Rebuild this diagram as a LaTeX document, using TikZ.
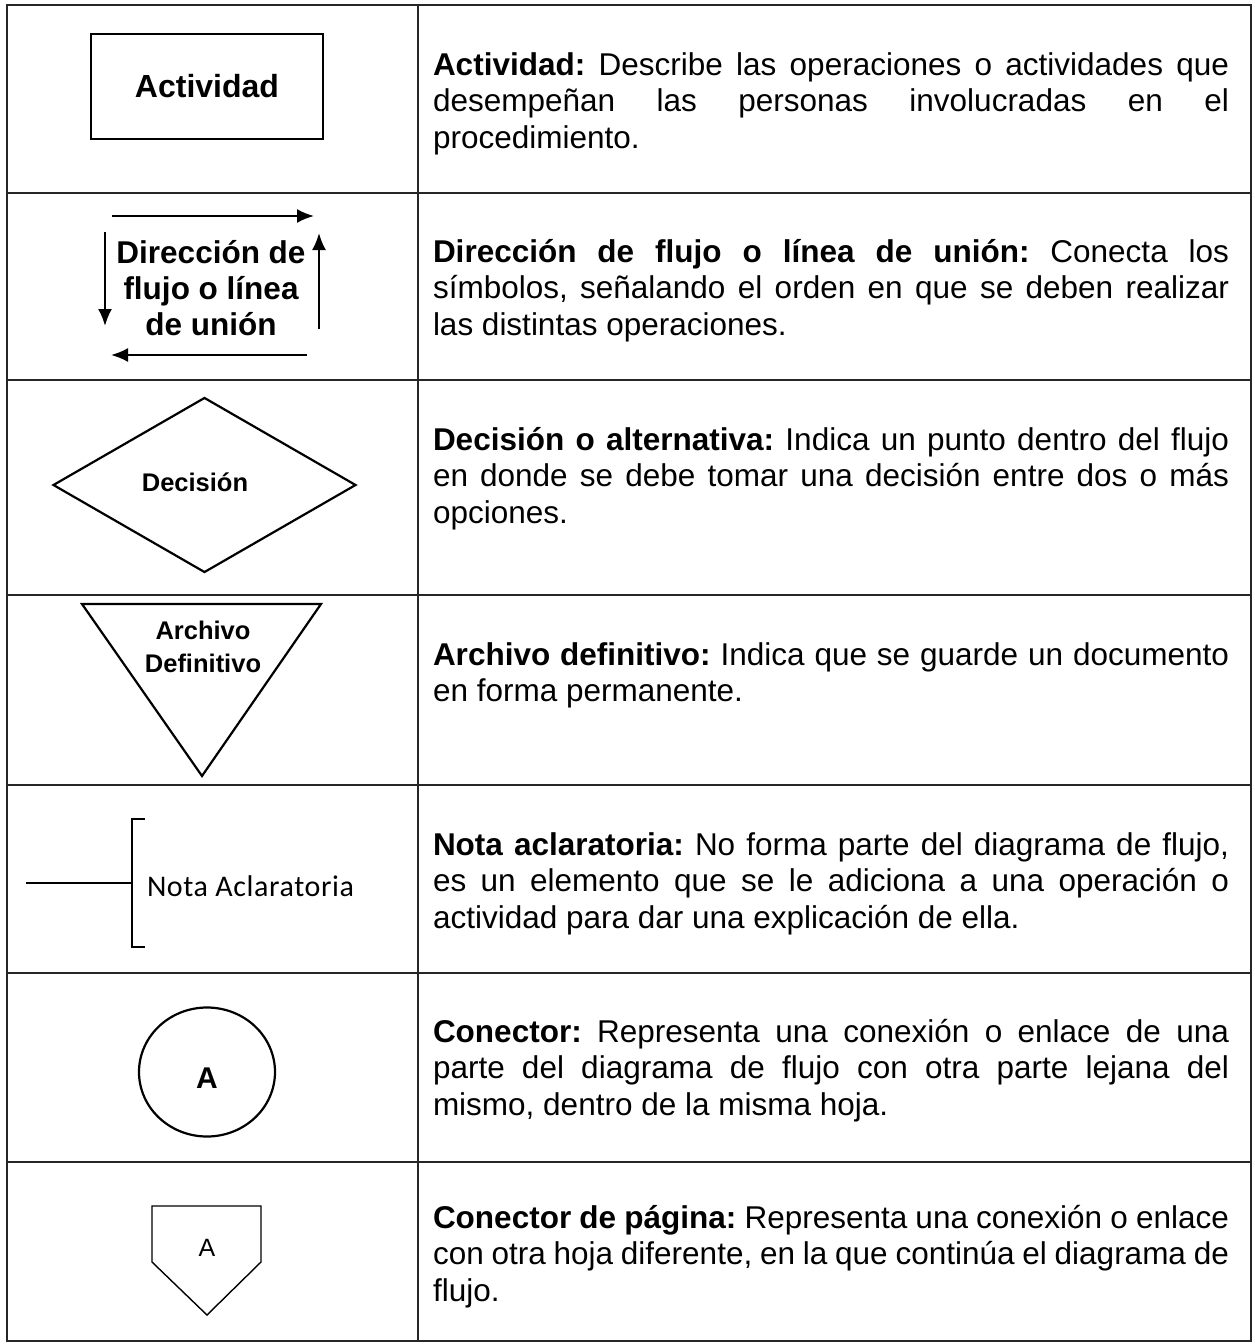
\documentclass[tikz,border=0pt]{standalone}
\usepackage{fontspec}
\setmainfont{Liberation Sans}
\newfontfamily\calibri[LetterSpace=2]{Carlito}
\usetikzlibrary{arrows.meta,shapes.geometric}
\hyphenpenalty=10000
\exhyphenpenalty=10000
\frenchspacing
\begin{document}
\begin{tikzpicture}[x=1pt,y=-1pt,line width=2pt,
  tbl/.style={line width=1.8pt,draw=black!85},
  shp/.style={draw,line width=2.2pt},
  desc/.style={anchor=base west,inner sep=0pt,text width=796pt,align=justify,
    font=\fontsize{31.5}{36.8}\selectfont},
  flowarr/.style={-{Latex[length=17pt,width=14pt]},line width=2.2pt},
  bigbold/.style={font=\fontsize{32}{36}\selectfont\bfseries},
  midbold/.style={font=\fontsize{31.5}{36}\selectfont\bfseries,align=center,inner sep=0pt},
  smallbold/.style={font=\fontsize{25.5}{33}\selectfont\bfseries,align=center,inner sep=0pt}]
\useasboundingbox (0,0) rectangle (1255,1344);

% table grid
\draw[tbl] (7,5) rectangle (1251,1341);
\draw[tbl] (418,5) -- (418,1341);
\foreach \yy in {193,380,595,785,973,1162}
  \draw[tbl] (7,\yy) -- (1251,\yy);

% row 1: activity box
\node[shp,bigbold,minimum width=232pt,minimum height=105pt,inner sep=0pt] (act) at (207,86.5) {Actividad};

% row 2: flow lines (base anchor = last line)
\node[midbold,anchor=base] (flow) at (211,335) {Dirección de\\flujo o línea\\de unión};
\coordinate (t1) at (112,216); \coordinate (t2) at (314,216);
\coordinate (l1) at (105,232); \coordinate (l2) at (105,326);
\coordinate (r1) at (319,329); \coordinate (r2) at (319,233);
\coordinate (b1) at (307,355); \coordinate (b2) at (111,355);
\draw[flowarr] (t1) -- (t2);
\draw[flowarr] (l1) -- (l2);
\draw[flowarr] (r1) -- (r2);
\draw[flowarr] (b1) -- (b2);

% row 3: decision diamond
\node[shp,diamond,minimum width=303pt,minimum height=175pt,inner sep=0pt] (dec) at (204.5,485) {};
\node[smallbold,anchor=base] (dect) at (195,491) {Decisión};

% row 4: file triangle
\coordinate (tr1) at (82,604); \coordinate (tr2) at (321,604); \coordinate (tr3) at (202,776);
\draw[shp,line join=miter] (tr1) -- (tr2) -- (tr3) -- cycle;
\node[smallbold,anchor=base] (arch) at (203,672) {Archivo\\Definitivo};

% row 5: note
\coordinate (n0) at (26,883); \coordinate (n1) at (132,883);
\coordinate (bt) at (145,819); \coordinate (btc) at (132,819);
\coordinate (bb) at (145,947); \coordinate (bbc) at (132,947);
\draw[line width=2.2pt] (n0) -- (n1);
\draw[line width=2.2pt] (bt) -- (btc) -- (bbc) -- (bb);
\node[font=\fontsize{30}{34}\selectfont\calibri,inner sep=0pt,anchor=base west] (nota) at (146,896) {Nota Aclaratoria};

% row 6: connector
\node[shp,ellipse,minimum width=136pt,minimum height=129pt,inner sep=0pt] (con) at (207,1072) {};
\node[font=\fontsize{30}{34}\selectfont\bfseries,inner sep=0pt,anchor=base] (cona) at (207,1088) {A};

% row 7: page connector
\coordinate (p1) at (152,1206); \coordinate (p2) at (261,1206);
\coordinate (p3) at (261,1262); \coordinate (p4) at (207,1315); \coordinate (p5) at (152,1262);
\draw[line width=1.4pt,line join=miter] (p1) -- (p2) -- (p3) -- (p4) -- (p5) -- cycle;
\node[font=\fontsize{25}{30}\selectfont,inner sep=0pt,anchor=base] (pa) at (207,1256) {A};

% descriptions
\node[desc] (d1) at (432,75) {\textbf{Actividad:} Describe las operaciones o actividades que\linebreak desempeñan las personas involucradas en el\linebreak procedimiento.};
\node[desc] (d2) at (432,262) {\textbf{Dirección de flujo o línea de unión:} Conecta los\linebreak símbolos, señalando el orden en que se deben realizar\linebreak las distintas operaciones.};
\node[desc] (d3) at (432,450) {\textbf{Decisión o alternativa:} Indica un punto dentro del flujo\linebreak en donde se debe tomar una decisión entre dos o más\linebreak opciones.};
\node[desc] (d4) at (432,665) {\textbf{Archivo definitivo:} Indica que se guarde un documento\linebreak en forma permanente.};
\node[desc] (d5) at (432,855) {\textbf{Nota aclaratoria:} No forma parte del diagrama de flujo,\linebreak es un elemento que se le adiciona a una operación o\linebreak actividad para dar una explicación de ella.};
\node[desc] (d6) at (432,1042) {\textbf{Conector:} Representa una conexión o enlace de una\linebreak parte del diagrama de flujo con otra parte lejana del\linebreak mismo, dentro de la misma hoja.};
\node[desc] (d7) at (432,1228) {\textbf{Conector de página:} Representa una conexión o enlace\linebreak con otra hoja diferente, en la que continúa el diagrama de\linebreak flujo.};
\end{tikzpicture}
\end{document}
